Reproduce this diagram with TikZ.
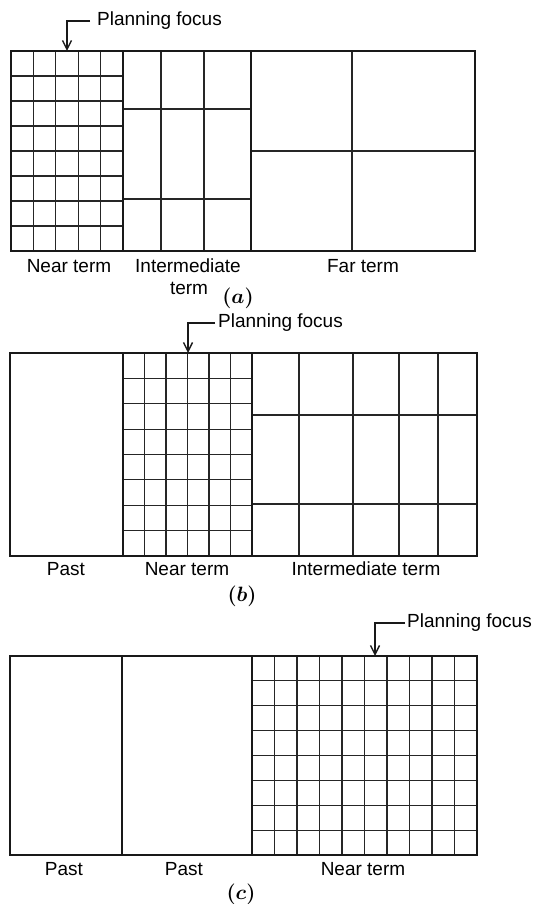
\documentclass[tikz,border=0pt]{standalone}
\usepackage{fontspec}
\setmainfont{Liberation Sans}
\usetikzlibrary{arrows.meta}

\begin{document}
\begin{tikzpicture}[x=1pt, y=-1pt, font=\fontsize{19}{22}\selectfont,
  frame/.style={line width=1.8pt, black!90},
  cell/.style={line width=1.2pt, black!85},
  lbl/.style={anchor=base, inner sep=0pt},
  panelcap/.style={anchor=base, inner sep=0pt, font=\fontsize{21}{21}\selectfont\boldmath},
  focus/.style={anchor=west, inner sep=0pt},
  pointer/.style={line width=1.2pt, black!90, -{Straight Barb[length=9pt,width=9pt,line width=1.4pt]}}]
  \useasboundingbox (0,0) rectangle (538,904);
  % (a)
  \foreach \i in {1,...,4} \draw[cell] ({11+22.4*\i},51) -- ({11+22.4*\i},251);
  \foreach \j in {1,...,7} \draw[cell] (11,{51+25*\j}) -- (123,{51+25*\j});
  \draw[cell] (161,51) -- (161,251) (204,51) -- (204,251) (123,109) -- (251,109) (123,199) -- (251,199);
  \draw[cell] (352,51) -- (352,251) (251,151) -- (475,151);
  \draw[frame] (11,51) rectangle (475,251) (123,51) -- (123,251) (251,51) -- (251,251);
  \node[lbl] (nearA) at (69,272) {Near term};
  \node[lbl] (interA) at (188,272) {Intermediate}; \node[lbl] (interA2) at (189,294) {term};
  \node[lbl] (farA) at (363,272) {Far term};
  \node[panelcap] (capA) at (238,303) {$(a)$};
  \node[focus] (focusA) at (97,21) {Planning focus}; \coordinate (tipA) at (67,51);
  \draw[pointer] ([xshift=-7pt]focusA.west) -| (tipA);
  % (b)
  \foreach \i in {1,...,5} \draw[cell] ({123+21.5*\i},353) -- ({123+21.5*\i},556);
  \foreach \j in {1,...,7} \draw[cell] (123,{353+25.375*\j}) -- (252,{353+25.375*\j});
  \foreach \x in {299,353,399,438} \draw[cell] (\x,353) -- (\x,556);
  \draw[cell] (252,415) -- (477,415) (252,504) -- (477,504);
  \draw[frame] (10,353) rectangle (477,556) (123,353) -- (123,556) (252,353) -- (252,556);
  \node[lbl] (pastB) at (66,575) {Past};
  \node[lbl] (nearB) at (187,575) {Near term};
  \node[lbl] (interB) at (366,575) {Intermediate term};
  \node[panelcap] (capB) at (242,601) {$(b)$};
  \node[focus] (focusB) at (218,323) {Planning focus}; \coordinate (tipB) at (188,353);
  \draw[pointer] ([xshift=-3pt]focusB.west) -| (tipB);
  % (c)
  \foreach \i in {1,...,9} \draw[cell] ({252+22.5*\i},656) -- ({252+22.5*\i},855);
  \foreach \j in {1,...,7} \draw[cell] (252,{656+24.875*\j}) -- (477,{656+24.875*\j});
  \draw[frame] (10,656) rectangle (477,855) (122,656) -- (122,855) (252,656) -- (252,855);
  \node[lbl] (pastC1) at (64,875) {Past};
  \node[lbl] (pastC2) at (184,875) {Past};
  \node[lbl] (nearC) at (363,875) {Near term};
  \node[panelcap] (capC) at (241,899) {$(c)$};
  \node[focus] (focusC) at (407,623) {Planning focus}; \coordinate (tipC) at (375,656);
  \draw[pointer] ([xshift=-2pt]focusC.west) -| (tipC);
\end{tikzpicture}
\end{document}
